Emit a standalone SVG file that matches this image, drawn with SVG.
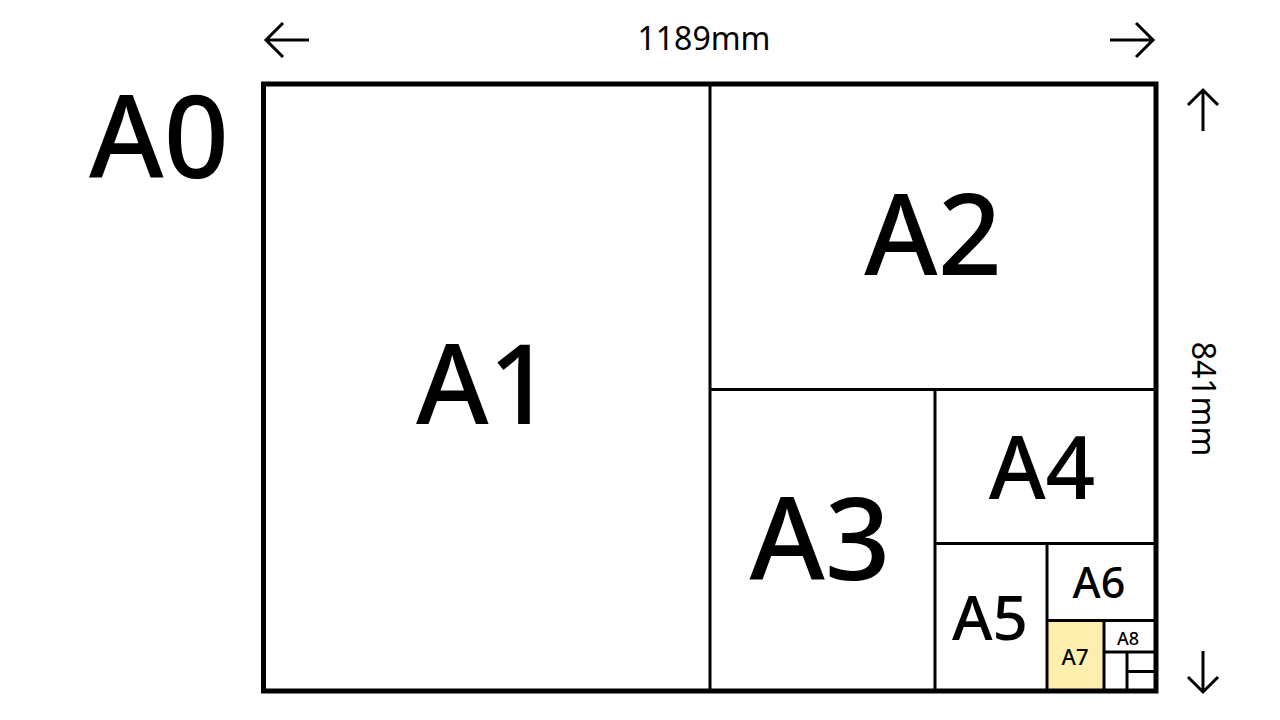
<svg xmlns="http://www.w3.org/2000/svg" width="1280" height="720" viewBox="0 0 1280 720">
<style>
.lbl{font-family:"Noto Sans","Open Sans","Liberation Sans",sans-serif;fill:#000;text-anchor:middle;font-weight:500}
.dim{font-family:"Noto Sans","Open Sans","Liberation Sans",sans-serif;fill:#000;text-anchor:middle}
.div{stroke:#000;stroke-width:3;fill:none}
.arr{stroke:#000;stroke-width:3;fill:none;stroke-linecap:butt;stroke-linejoin:miter}
</style>
<rect width="1280" height="720" fill="#fff"/>
<g id="A7-fill"><rect x="1047" y="620" width="57" height="71" fill="#FFEFAE"/></g>
<g id="dividers">
<line class="div" x1="710" y1="84" x2="710" y2="691"/>
<line class="div" x1="710" y1="389.5" x2="1156" y2="389.5"/>
<line class="div" x1="935" y1="389.5" x2="935" y2="691"/>
<line class="div" x1="935" y1="543.5" x2="1156" y2="543.5"/>
<line class="div" x1="1047" y1="543.5" x2="1047" y2="691"/>
<line class="div" x1="1047" y1="620.5" x2="1156" y2="620.5"/>
<line class="div" x1="1104" y1="620.5" x2="1104" y2="691"/>
<line class="div" x1="1104" y1="652" x2="1156" y2="652"/>
<line class="div" x1="1127" y1="652" x2="1127" y2="691"/>
<line class="div" x1="1127" y1="671.5" x2="1156" y2="671.5"/>
</g>
<g id="A0"><rect x="263.5" y="84" width="892.5" height="607" fill="none" stroke="#000" stroke-width="5"/>
<text class="lbl" x="159" y="178" font-size="114">A0</text></g>
<g id="A1"><text class="lbl" x="484" y="424" font-size="111">A1</text></g>
<g id="A2"><text class="lbl" x="933" y="275" font-size="112">A2</text></g>
<g id="A3"><text class="lbl" x="820" y="580" font-size="115">A3</text></g>
<g id="A4"><text class="lbl" x="1042" y="499" font-size="87">A4</text></g>
<g id="A5"><text class="lbl" x="990" y="640" font-size="62">A5</text></g>
<g id="A6"><text class="lbl" x="1099" y="598" font-size="43">A6</text></g>
<g id="A7"><text class="lbl" x="1075" y="665" font-size="22">A7</text></g>
<g id="A8"><text class="lbl" x="1128" y="645" font-size="18">A8</text></g>
<g id="dimensions">
<text class="dim" x="704" y="50" font-size="32">1189mm</text>
<text class="dim" font-size="32" transform="translate(1192 399) rotate(90)">841mm</text>
</g>
<g id="connectors">
<path class="arr" d="M309 40H266M283 23L266 40L283 57"/>
<path class="arr" d="M1110 40H1153M1136 23L1153 40L1136 57"/>
<path class="arr" d="M1203 131V90M1188 105L1203 90L1218 105"/>
<path class="arr" d="M1203 651V692M1188 677L1203 692L1218 677"/>
</g>
</svg>
